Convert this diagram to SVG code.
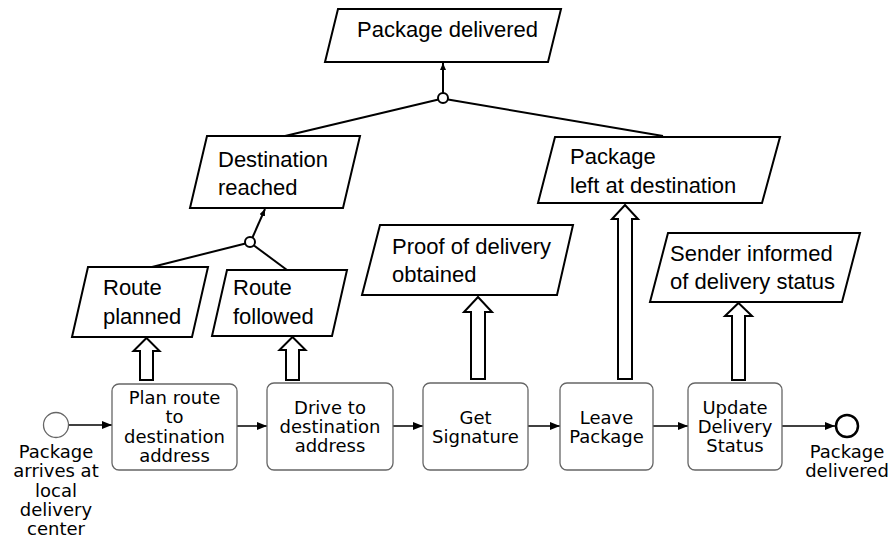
<svg xmlns="http://www.w3.org/2000/svg" width="892" height="540" viewBox="0 0 892 540">
<style>
.goal{fill:#fff;stroke:#000;stroke-width:2}
.gt{font-family:"Liberation Sans",Arial,sans-serif;font-size:22px;fill:#000}
.task{fill:#fff;stroke:#666;stroke-width:1.3}
.tt{font-family:"DejaVu Sans",Verdana,sans-serif;font-size:18px;fill:#000;text-anchor:middle}
.hol{fill:#fff;stroke:#000;stroke-width:2}
.ln{fill:none;stroke:#000;stroke-width:2}
.flow{fill:none;stroke:#000;stroke-width:1.5}
.jn{fill:#fff;stroke:#000;stroke-width:2}
</style>
<defs>
<marker id="ah" viewBox="0 0 10 8" refX="10" refY="4" markerWidth="10" markerHeight="8" markerUnits="userSpaceOnUse" orient="auto">
<path d="M0,0 L10,4 L0,8 Z" fill="#000"/>
</marker>
<marker id="sh" viewBox="0 0 7 6" refX="7" refY="3" markerWidth="7" markerHeight="6" markerUnits="userSpaceOnUse" orient="auto">
<path d="M0,0 L7,3 L0,6 Z" fill="#000"/>
</marker>
</defs>

<g id="connectors">
<line class="ln" x1="438.5" y1="99.5" x2="285" y2="136"/>
<line class="ln" x1="448" y1="99.5" x2="663" y2="136"/>
<line class="ln" x1="443" y1="93" x2="443" y2="63" marker-end="url(#sh)"/>
<line class="ln" x1="245.5" y1="243.5" x2="152" y2="267"/>
<line class="ln" x1="254" y1="245.5" x2="287" y2="270"/>
<line class="ln" x1="252.5" y1="237.5" x2="265" y2="209" marker-end="url(#sh)"/>
<polygon class="hol" points="146.5,338 159.5,351 153,351 153,380 140,380 140,351 133.5,351"/>
<polygon class="hol" points="292.5,337 305.5,350 299,350 299,380 286,380 286,350 279.5,350"/>
<polygon class="hol" points="478,297 492,312 485,312 485,379 471,379 471,312 464,312"/>
<polygon class="hol" points="625,205 638,219 632,219 632,379 618,379 618,219 612,219"/>
<polygon class="hol" points="738.5,303 752,316 745,316 745,380 732,380 732,316 725,316"/>
<line class="flow" x1="68.5" y1="425" x2="112" y2="425" marker-end="url(#ah)"/>
<line class="flow" x1="237" y1="426" x2="267" y2="426" marker-end="url(#ah)"/>
<line class="flow" x1="393" y1="426" x2="423" y2="426" marker-end="url(#ah)"/>
<line class="flow" x1="528" y1="426" x2="560" y2="426" marker-end="url(#ah)"/>
<line class="flow" x1="653" y1="426" x2="688" y2="426" marker-end="url(#ah)"/>
<line class="flow" x1="782" y1="426" x2="835" y2="426" marker-end="url(#ah)"/>
</g>

<g id="junction-top"><circle class="jn" cx="443" cy="98" r="5"/></g>
<g id="junction-dest"><circle class="jn" cx="250" cy="242" r="5"/></g>

<g id="goal-package-delivered">
<polygon class="goal" points="338,9 561,9 548,62 325,62"/>
<text class="gt" x="357" y="37">Package delivered</text>
</g>
<g id="goal-destination-reached">
<polygon class="goal" points="207,136 360,136 343,208 190,208"/>
<text class="gt" x="218" y="167">Destination</text>
<text class="gt" x="218" y="195">reached</text>
</g>
<g id="goal-package-left">
<polygon class="goal" points="555,137 780,137 762,203 538,203"/>
<text class="gt" x="570" y="164">Package</text>
<text class="gt" x="570" y="193">left at destination</text>
</g>
<g id="goal-route-planned">
<polygon class="goal" points="88,267 208,267 192,337 72,337"/>
<text class="gt" x="103" y="295">Route</text>
<text class="gt" x="103" y="324">planned</text>
</g>
<g id="goal-route-followed">
<polygon class="goal" points="227,270 347,270 332,336 212,336"/>
<text class="gt" x="233" y="295">Route</text>
<text class="gt" x="233" y="324">followed</text>
</g>
<g id="goal-proof">
<polygon class="goal" points="380,225 573,225 557,295 362,295"/>
<text class="gt" x="392" y="254">Proof of delivery</text>
<text class="gt" x="392" y="282">obtained</text>
</g>
<g id="goal-sender">
<polygon class="goal" points="668,233 860,233 842,302 650,302"/>
<text class="gt" x="670" y="261">Sender informed</text>
<text class="gt" x="670" y="289">of delivery status</text>
</g>

<g id="start-event">
<circle cx="56" cy="425" r="12.5" fill="#fff" stroke="#666" stroke-width="1.3"/>
<text class="tt" x="56" y="458">Package</text>
<text class="tt" x="56" y="477">arrives at</text>
<text class="tt" x="56" y="497">local</text>
<text class="tt" x="56" y="516">delivery</text>
<text class="tt" x="56" y="535">center</text>
</g>
<g id="task-plan">
<rect class="task" x="112" y="384" width="125" height="86" rx="7"/>
<text class="tt" x="174.5" y="404">Plan route</text>
<text class="tt" x="174.5" y="423">to</text>
<text class="tt" x="174.5" y="443">destination</text>
<text class="tt" x="174.5" y="462">address</text>
</g>
<g id="task-drive">
<rect class="task" x="267" y="383" width="126" height="87" rx="7"/>
<text class="tt" x="330" y="414">Drive to</text>
<text class="tt" x="330" y="433">destination</text>
<text class="tt" x="330" y="452">address</text>
</g>
<g id="task-signature">
<rect class="task" x="423" y="383" width="105" height="87" rx="7"/>
<text class="tt" x="475.5" y="424">Get</text>
<text class="tt" x="475.5" y="443">Signature</text>
</g>
<g id="task-leave">
<rect class="task" x="560" y="383" width="93" height="87" rx="7"/>
<text class="tt" x="606.5" y="424">Leave</text>
<text class="tt" x="606.5" y="443">Package</text>
</g>
<g id="task-update">
<rect class="task" x="688" y="383" width="94" height="87" rx="7"/>
<text class="tt" x="735" y="414">Update</text>
<text class="tt" x="735" y="433">Delivery</text>
<text class="tt" x="735" y="452">Status</text>
</g>
<g id="end-event">
<circle cx="847" cy="426" r="11" fill="#fff" stroke="#000" stroke-width="2.5"/>
<text class="tt" x="847" y="458">Package</text>
<text class="tt" x="847" y="477">delivered</text>
</g>
</svg>
